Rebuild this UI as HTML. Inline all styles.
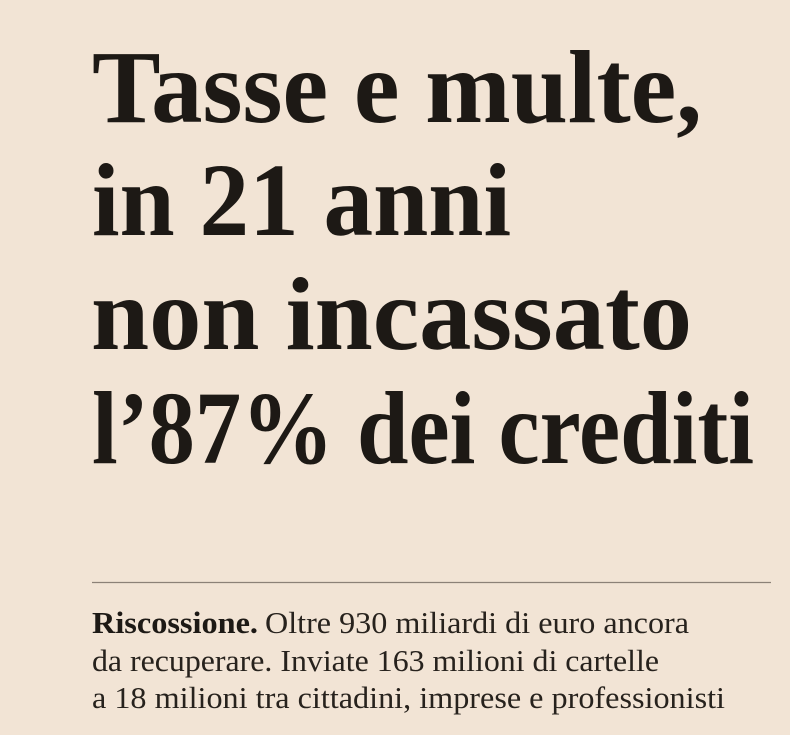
<!DOCTYPE html>
<html>
<head>
<meta charset="utf-8">
<style>
  html, body { margin: 0; padding: 0; }
  body { width: 790px; height: 735px; background: #f2e4d5; overflow: hidden; }
  svg { display: block; }
  .h { font-family: "Liberation Serif", "DejaVu Serif", serif; font-weight: bold; font-size: 104px; fill: #1d1915; }
  .b { font-family: "Liberation Serif", "DejaVu Serif", serif; font-size: 31px; fill: #27221d; }
  .bb { font-weight: bold; fill: #1d1915; }
</style>
</head>
<body>
<svg width="790" height="735" viewBox="0 0 790 735" xmlns="http://www.w3.org/2000/svg">
  <rect x="0" y="0" width="790" height="735" fill="#f2e4d5"/>
  <text class="h" x="92" y="122" textLength="610" lengthAdjust="spacingAndGlyphs">Tasse e multe,</text>
  <text class="h" x="92" y="235" textLength="419" lengthAdjust="spacingAndGlyphs">in 21 anni</text>
  <text class="h" x="91" y="349" textLength="601" lengthAdjust="spacingAndGlyphs">non incassato</text>
  <text class="h" x="92" y="463" textLength="662" lengthAdjust="spacingAndGlyphs">l’87% dei crediti</text>

  <line x1="92" y1="582.5" x2="771" y2="582.5" stroke="#8c8177" stroke-width="1.2"/>

  <text class="b bb" x="92" y="633" textLength="166" lengthAdjust="spacingAndGlyphs">Riscossione.</text>
  <text class="b" x="265" y="633" textLength="424" lengthAdjust="spacingAndGlyphs">Oltre 930 miliardi di euro ancora</text>
  <text class="b" x="92" y="671" textLength="567" lengthAdjust="spacingAndGlyphs">da recuperare. Inviate 163 milioni di cartelle</text>
  <text class="b" x="92" y="708" textLength="633" lengthAdjust="spacingAndGlyphs">a 18 milioni tra cittadini, imprese e professionisti</text>
</svg>
</body>
</html>
